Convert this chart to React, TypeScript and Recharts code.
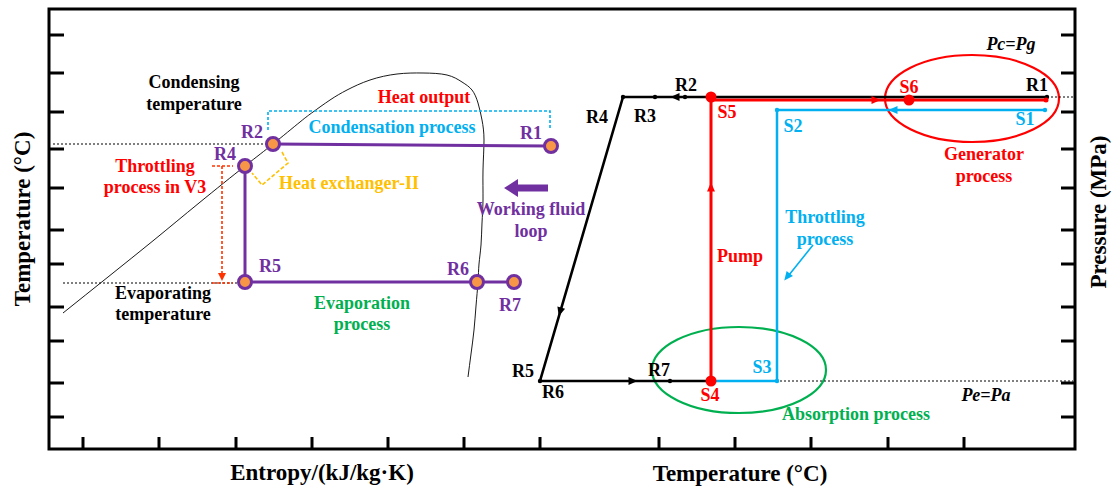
import React from 'react';
import { ComposedChart, XAxis, YAxis, Scatter, ReferenceLine, ReferenceArea, ReferenceDot } from 'recharts';

type P = { x: number; y: number };
type T = { x: number; y: number; t: string };
type A = { x: number; y: number; a: number };

// ---- axis ticks (schematic units) ----
const xTicks = [34, 110, 187, 263, 339, 415, 491, 610, 686, 762, 839, 915];
const yTicks = [414, 376, 337, 300, 261, 219, 185, 142, 108, 66, 32];

// ---- left panel: T-s diagram ----
const saturationDome: P[] = [
  { x: 14, y: 136 }, { x: 59, y: 172 }, { x: 105, y: 209 }, { x: 150, y: 246 }, { x: 196, y: 283 },
  { x: 224, y: 305 }, { x: 251, y: 327 }, { x: 264, y: 337 }, { x: 281, y: 349 }, { x: 298, y: 359 },
  { x: 321, y: 369 }, { x: 348, y: 375 }, { x: 374, y: 376 }, { x: 398, y: 374 }, { x: 413, y: 367 },
  { x: 423, y: 359 }, { x: 429, y: 346 }, { x: 433, y: 329 }, { x: 435, y: 309 }, { x: 434, y: 279 },
  { x: 434, y: 249 }, { x: 433, y: 226 }, { x: 432, y: 204 }, { x: 430, y: 185 }, { x: 429, y: 167 },
  { x: 427, y: 143 }, { x: 425, y: 119 }, { x: 422, y: 95 }, { x: 419, y: 72 },
];
const statePoints: P[] = [
  { x: 502, y: 303 }, { x: 224, y: 305 }, { x: 196, y: 283 }, { x: 196, y: 167 }, { x: 428, y: 167 }, { x: 465, y: 167 },
];
const condensationLine: P[] = [{ x: 224, y: 305 }, { x: 502, y: 303 }];
const throttleLine: P[] = [{ x: 196, y: 283 }, { x: 196, y: 167 }];
const evaporationLine: P[] = [{ x: 196, y: 167 }, { x: 428, y: 167 }, { x: 465, y: 167 }];
const condensingTempLine: P[] = [{ x: 4, y: 305 }, { x: 224, y: 305 }];
const evaporatingTempLine: P[] = [{ x: 14, y: 166 }, { x: 196, y: 166 }];
const heatOutputBracket: P[] = [{ x: 219, y: 319 }, { x: 219, y: 338 }, { x: 501, y: 338 }, { x: 501, y: 319 }];
const heatExchangerBracket: P[] = [{ x: 233, y: 297 }, { x: 239, y: 286 }, { x: 213, y: 264 }, { x: 203, y: 276 }];
const v3TopDash: P[] = [{ x: 163, y: 283 }, { x: 184, y: 283 }];
const v3Drop: P[] = [{ x: 173, y: 283 }, { x: 173, y: 172 }];
const v3BottomDash: P[] = [{ x: 163, y: 166 }, { x: 184, y: 166 }];
const v3Arrow: A[] = [{ x: 173, y: 172, a: 90 }];
const loopShaft: P[] = [{ x: 499, y: 261 }, { x: 468, y: 261 }];
const loopArrow: A[] = [{ x: 462, y: 261, a: 180 }];

// ---- right panel: P-T diagram ----
const refrigerantCycle: P[] = [{ x: 998, y: 352 }, { x: 574, y: 352 }, { x: 491, y: 68 }, { x: 662, y: 68 }];
const refrigerantDots: P[] = [
  { x: 998, y: 352 }, { x: 636, y: 352 }, { x: 606, y: 352 }, { x: 574, y: 352 }, { x: 491, y: 68 }, { x: 621, y: 68 },
];
const refrigerantArrows: A[] = [{ x: 626, y: 352, a: 180 }, { x: 511, y: 137, a: 106 }, { x: 584, y: 68, a: 0 }];
const generatorLine: P[] = [{ x: 662, y: 349 }, { x: 998, y: 349 }];
const pumpLine: P[] = [{ x: 662, y: 352 }, { x: 662, y: 68 }];
const solutionPoints: P[] = [{ x: 662, y: 352 }, { x: 860, y: 349 }, { x: 662, y: 68 }];
const solutionEnd: P[] = [{ x: 997, y: 349 }];
const solutionArrows: A[] = [{ x: 662, y: 262, a: -90 }, { x: 827, y: 349, a: 0 }];
const weakSolutionLine: P[] = [{ x: 996, y: 339 }, { x: 728, y: 339 }, { x: 728, y: 68 }, { x: 663, y: 68 }];
const weakSolutionDots: P[] = [{ x: 996, y: 339 }, { x: 728, y: 339 }, { x: 728, y: 68 }];
const weakSolutionArrows: A[] = [{ x: 844, y: 339, a: 180 }];
const throttlePointer: P[] = [{ x: 764, y: 204 }, { x: 740, y: 174 }];
const throttlePointerHead: A[] = [{ x: 738, y: 172, a: 128 }];
const highPressureLine: P[] = [{ x: 998, y: 352 }, { x: 1024, y: 352 }];
const lowPressureLine: P[] = [{ x: 663, y: 68 }, { x: 1024, y: 68 }];
const generatorZone = [836, 1010, 307, 394];
const absorptionZone = [603, 777, 36, 122];

// ---- annotations ----
const blackNotes: T[] = [
  { x: 145, y: 367, t: 'Condensing' }, { x: 145, y: 345, t: 'temperature' },
  { x: 114, y: 156, t: 'Evaporating' }, { x: 114, y: 135, t: 'temperature' },
  { x: 637, y: 364, t: 'R2' }, { x: 548, y: 332, t: 'R4' }, { x: 596, y: 333, t: 'R3' }, { x: 988, y: 364, t: 'R1' },
  { x: 474, y: 78, t: 'R5' }, { x: 504, y: 57, t: 'R6' }, { x: 610, y: 79, t: 'R7' },
];
const italicNotes: T[] = [{ x: 962, y: 405, t: 'Pc=Pg' }, { x: 937, y: 54, t: 'Pe=Pa' }];
const purpleNotes: T[] = [
  { x: 203, y: 317, t: 'R2' }, { x: 176, y: 295, t: 'R4' }, { x: 482, y: 316, t: 'R1' },
  { x: 221, y: 183, t: 'R5' }, { x: 409, y: 180, t: 'R6' }, { x: 461, y: 144, t: 'R7' },
  { x: 482, y: 240, t: 'Working fluid' }, { x: 482, y: 218, t: 'loop' },
];
const redNotes: T[] = [
  { x: 106, y: 283, t: 'Throttling' }, { x: 106, y: 262, t: 'process in V3' }, { x: 375, y: 352, t: 'Heat output' },
  { x: 678, y: 337, t: 'S5' }, { x: 860, y: 362, t: 'S6' }, { x: 935, y: 295, t: 'Generator' }, { x: 935, y: 273, t: 'process' },
  { x: 691, y: 193, t: 'Pump' }, { x: 661, y: 54, t: 'S4' },
];
const cyanNotes: T[] = [
  { x: 343, y: 322, t: 'Condensation process' }, { x: 744, y: 323, t: 'S2' }, { x: 776, y: 232, t: 'Throttling' },
  { x: 776, y: 210, t: 'process' }, { x: 976, y: 330, t: 'S1' }, { x: 713, y: 82, t: 'S3' },
];
const greenNotes: T[] = [
  { x: 313, y: 146, t: 'Evaporation' }, { x: 313, y: 125, t: 'process' }, { x: 807, y: 35, t: 'Absorption process' },
];
const yellowNotes: T[] = [{ x: 300, y: 266, t: 'Heat exchanger-II' }];

const FONT = "'Liberation Serif', 'Times New Roman', Times, serif";
const PURPLE = '#7030A0';
const ORANGE = '#F79646';
const RED = '#FF0000';
const CYAN = '#00B0F0';
const GREEN = '#00B050';
const YELLOW = '#FFC000';
const NOTE_SIZE = 18;

const none = () => <g />;

const textShape = (color: string, size = NOTE_SIZE, italic = false) => (p: any) => (
  <text x={p.cx} y={p.cy} fill={color} fontSize={size} fontWeight="bold" fontStyle={italic ? 'italic' : 'normal'}
    fontFamily={FONT} textAnchor="middle" dominantBaseline="central">{p.payload.t}</text>
);

const arrowShape = (color: string, len: number, half: number) => (p: any) => (
  <polygon points={`${len / 2},0 ${-len / 2},${half} ${-len / 2},${-half}`}
    transform={`translate(${p.cx},${p.cy}) rotate(${p.payload.a})`} fill={color} />
);

const dotShape = (fill: string, r: number, stroke = 'none', sw = 0) => (p: any) => (
  <circle cx={p.cx} cy={p.cy} r={r} fill={fill} stroke={stroke} strokeWidth={sw} />
);

const ellipseShape = (color: string) => (p: any) => (
  <ellipse cx={p.x + p.width / 2} cy={p.y + p.height / 2} rx={Math.abs(p.width) / 2} ry={Math.abs(p.height) / 2}
    fill="none" stroke={color} strokeWidth={2.2} />
);

const poly = (pts: P[], color: string, width: number, dash?: string, joint: any = 'linear') => (
  <Scatter data={pts} fill={color} line={{ stroke: color, strokeWidth: width, strokeDasharray: dash, fill: 'none' }}
    lineJointType={joint} shape={none} isAnimationActive={false} />
);

const axisTitle = (x: number, y: number, t: string, rotate = 0) => (
  <ReferenceDot x={x} y={y} r={0} ifOverflow="visible"
    shape={(p: any) => (
      <text x={p.cx} y={p.cy} transform={rotate ? `rotate(${rotate},${p.cx},${p.cy})` : undefined}
        fontSize={23} fontWeight="bold" fontFamily={FONT} fill="#000" textAnchor="middle" dominantBaseline="central">{t}</text>
    )} />
);

export default function App() {
  return (
    <div style={{ position: 'absolute', left: 0, top: 0, width: 1116, height: 489, background: '#fff' }}>
      <ComposedChart width={1116} height={489} margin={{ top: 9, right: 41, bottom: 40, left: 49 }}>
        <XAxis type="number" dataKey="x" domain={[0, 1026]} allowDataOverflow hide />
        <YAxis type="number" dataKey="y" domain={[0, 440]} allowDataOverflow hide />

        {/* frame and ticks */}
        <ReferenceArea x1={0} x2={1026} y1={0} y2={440} fill="none" fillOpacity={0} stroke="#000" strokeWidth={3} ifOverflow="visible" />
        {yTicks.map((t) => (
          <ReferenceLine key={'l' + t} segment={[{ x: 0, y: t }, { x: 15, y: t }]} stroke="#000" strokeWidth={3} ifOverflow="visible" />
        ))}
        {yTicks.map((t) => (
          <ReferenceLine key={'r' + t} segment={[{ x: 1012, y: t }, { x: 1026, y: t }]} stroke="#000" strokeWidth={3} ifOverflow="visible" />
        ))}
        {xTicks.map((t) => (
          <ReferenceLine key={'b' + t} segment={[{ x: t, y: 0 }, { x: t, y: 12 }]} stroke="#000" strokeWidth={3} ifOverflow="visible" />
        ))}

        {/* ellipses */}
        <ReferenceArea x1={generatorZone[0]} x2={generatorZone[1]} y1={generatorZone[2]} y2={generatorZone[3]} shape={ellipseShape(RED)} ifOverflow="visible" />
        <ReferenceArea x1={absorptionZone[0]} x2={absorptionZone[1]} y1={absorptionZone[2]} y2={absorptionZone[3]} shape={ellipseShape(GREEN)} ifOverflow="visible" />

        {/* left panel */}
        {poly(saturationDome, '#000', 0.9, undefined, 'natural')}
        {poly(condensingTempLine, '#000', 1.2, '2 2')}
        {poly(evaporatingTempLine, '#000', 1.2, '2 2')}
        {poly(heatOutputBracket, CYAN, 1.6, '3 2')}
        {poly(heatExchangerBracket, YELLOW, 1.6, '4 2')}
        {poly(v3TopDash, '#FF3300', 1.6, '3 2')}
        {poly(v3Drop, '#FF3300', 1.6, '3 2')}
        {poly(v3BottomDash, '#FF3300', 1.6, '3 2')}
        <Scatter data={v3Arrow} shape={arrowShape('#FF3300', 8, 4)} isAnimationActive={false} />
        {poly(condensationLine, PURPLE, 3)}
        {poly(throttleLine, PURPLE, 3)}
        {poly(evaporationLine, PURPLE, 3)}
        <Scatter data={statePoints} shape={dotShape(ORANGE, 6.5, PURPLE, 3)} isAnimationActive={false} />
        {poly(loopShaft, PURPLE, 7)}
        <Scatter data={loopArrow} shape={arrowShape(PURPLE, 14, 9)} isAnimationActive={false} />

        {/* right panel */}
        {poly(highPressureLine, '#000', 1, '2 2')}
        {poly(lowPressureLine, '#000', 1, '2 2')}
        {poly(weakSolutionLine, CYAN, 2.5)}
        <Scatter data={weakSolutionDots} shape={dotShape(CYAN, 2.2)} isAnimationActive={false} />
        <Scatter data={weakSolutionArrows} shape={arrowShape(CYAN, 9, 4)} isAnimationActive={false} />
        {poly(generatorLine, RED, 3)}
        {poly(refrigerantCycle, '#000', 2.6)}
        {poly(pumpLine, RED, 3)}
        <Scatter data={refrigerantDots} shape={dotShape('#000', 2.2)} isAnimationActive={false} />
        <Scatter data={refrigerantArrows} shape={arrowShape('#000', 9, 4)} isAnimationActive={false} />
        <Scatter data={solutionEnd} shape={dotShape(RED, 2.5)} isAnimationActive={false} />
        <Scatter data={solutionArrows} shape={arrowShape(RED, 9, 4)} isAnimationActive={false} />
        <Scatter data={solutionPoints} shape={dotShape(RED, 5.5)} isAnimationActive={false} />
        {poly(throttlePointer, CYAN, 1.6)}
        <Scatter data={throttlePointerHead} shape={arrowShape(CYAN, 9, 4)} isAnimationActive={false} />

        {/* annotations */}
        <Scatter data={blackNotes} shape={textShape('#000')} isAnimationActive={false} />
        <Scatter data={italicNotes} shape={textShape('#000', NOTE_SIZE, true)} isAnimationActive={false} />
        <Scatter data={purpleNotes} shape={textShape(PURPLE)} isAnimationActive={false} />
        <Scatter data={redNotes} shape={textShape(RED)} isAnimationActive={false} />
        <Scatter data={cyanNotes} shape={textShape(CYAN)} isAnimationActive={false} />
        <Scatter data={greenNotes} shape={textShape(GREEN)} isAnimationActive={false} />
        <Scatter data={yellowNotes} shape={textShape(YELLOW)} isAnimationActive={false} />

        {axisTitle(273, -23, 'Entropy/(kJ/kg·K)')}
        {axisTitle(691, -24, 'Temperature (°C)')}
        {axisTitle(-27, 230, 'Temperature (°C)', -90)}
        {axisTitle(1049, 237, 'Pressure (MPa)', -90)}
      </ComposedChart>
    </div>
  );
}
